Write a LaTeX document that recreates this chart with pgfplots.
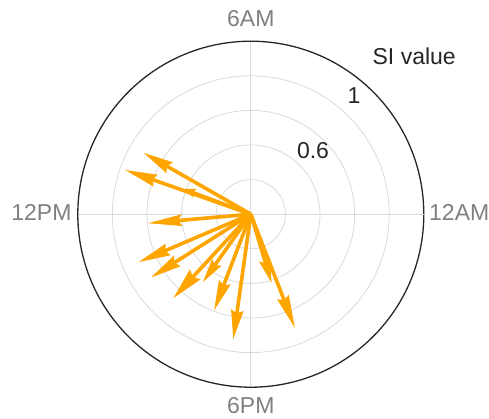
\documentclass[border=0pt]{standalone}
\usepackage{fontspec}
\setmainfont{Liberation Sans}
\usepackage{pgfplots}
\pgfplotsset{compat=1.18}
\usepgfplotslibrary{polar}
\usetikzlibrary{arrows.meta}

\definecolor{arrowc}{RGB}{255,165,0}
\definecolor{gridc}{RGB}{217,217,217}
\definecolor{labc}{RGB}{128,128,128}
\definecolor{rimc}{RGB}{38,38,38}

\tikzset{
  arr/.style 2 args={draw=arrowc, line width=3.6pt,
    -{Stealth[length=#1pt,width=#2pt,inset=3pt]}},
}

\begin{document}
\begin{tikzpicture}[font=\fontsize{23}{27}\selectfont]
\begin{polaraxis}[
  name=ax,
  scale only axis, width=346pt, height=346pt,
  xmin=0, xmax=360, ymin=0, ymax=1,
  xtick={0,90,180,270},
  xticklabels={},
  ytick={0.2,0.4,0.6,0.8},
  yticklabels={},
  grid=major,
  major grid style={gridc, line width=0.8pt},
  x axis line style={rimc, line width=1.3pt},
  y axis line style={gridc, line width=0.8pt},
  tick style={draw=none},
  no markers,
]
% SI value per hour of day (angle = hour * 15 deg)
\addplot[arr={30}{12}] coordinates {(0,0) (150.2,0.716)};
\addplot[arr={32}{12}] coordinates {(0,0) (160.6,0.771)};
\addplot[arr={13}{9}]  coordinates {(0,0) (159.5,0.420)};
\addplot[arr={34}{11}] coordinates {(0,0) (185.0,0.600)};
\addplot[arr={32}{12}] coordinates {(0,0) (203.1,0.707)};
\addplot[arr={31}{12}] coordinates {(0,0) (212.4,0.685)};
\addplot[arr={32}{14}] coordinates {(0,0) (227.3,0.661)};
\addplot[arr={24}{11}] coordinates {(0,0) (234.8,0.482)};
\addplot[arr={30}{12}] coordinates {(0,0) (249.1,0.597)};
\addplot[arr={29}{12}] coordinates {(0,0) (262.0,0.730)};
\addplot[arr={24}{11}] coordinates {(0,0) (286.8,0.417)};
\addplot[arr={33}{12}] coordinates {(0,0) (291.2,0.707)};
\coordinate (O) at (axis cs:0,0);
\end{polaraxis}
% hour labels around the rim
\node[anchor=west, text=labc, inner sep=0pt] at ([shift={(178.2pt,1.7pt)}]O) {12AM};
\node[anchor=east, text=labc, inner sep=0pt] at ([shift={(-179.1pt,1.7pt)}]O) {12PM};
\node[anchor=center, text=labc, inner sep=0pt] at ([shift={(0pt,195.9pt)}]O) {6AM};
\node[anchor=center, text=labc, inner sep=0pt] at ([shift={(0pt,-191.8pt)}]O) {6PM};
% radial labels
\node[anchor=base, text=rimc] at ([shift={(62.2pt,55.9pt)}]O) {0.6};
\node[anchor=base, text=rimc] at ([shift={(103.2pt,110.9pt)}]O) {1};
\node[anchor=base, text=rimc] at ([shift={(163.4pt,149.2pt)}]O) {SI value};
\pgfresetboundingbox
\path (O) ++(-250.8pt,-203.8pt) rectangle ++(489pt,418pt);
\end{tikzpicture}
\end{document}
